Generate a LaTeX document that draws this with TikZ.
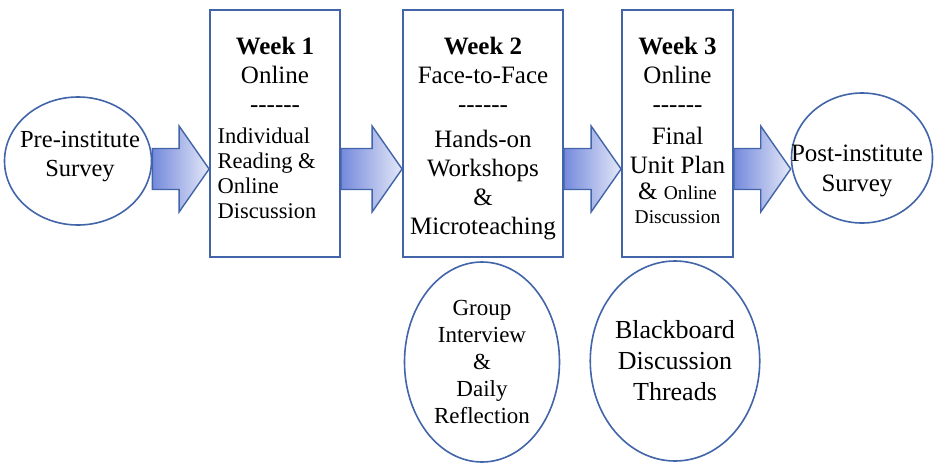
\documentclass[tikz,border=0pt]{standalone}
\usepackage{fontspec}
\setmainfont{Liberation Serif}
\usetikzlibrary{shapes.geometric,positioning,calc}
\definecolor{lineblue}{HTML}{4264A8}
\definecolor{arrowdark}{HTML}{7489DC}
\definecolor{arrowlight}{HTML}{E4E8F7}

\begin{document}
\begin{tikzpicture}[x=1pt,y=-1pt,
    every node/.style={font=\rmfamily},
    weekbox/.style={draw=lineblue, line width=1.8pt, minimum width=#1, minimum height=247pt, inner sep=0pt},
    boxtext/.style={align=center, inner sep=0pt, font=\rmfamily\fontsize{25}{29}\selectfont},
    oval/.style={ellipse, draw=lineblue, line width=1.6pt, inner sep=0pt, align=center},
    blockarrow/.style={draw=lineblue, line width=1.4pt, line join=miter,
        left color=arrowdark, right color=arrowlight,
        to path={($(\tikztostart)+(0,-20.5)$) -- ($(\tikztotarget)+(-30,-20.5)$)
            -- ($(\tikztotarget)+(-30,-43)$) -- (\tikztotarget)
            -- ($(\tikztotarget)+(-30,43)$) -- ($(\tikztotarget)+(-30,20.5)$)
            -- ($(\tikztostart)+(0,20.5)$) -- cycle}}]
            \useasboundingbox (0,0) rectangle (934,463);

            \node[oval, minimum width=147pt, minimum height=128pt] (pre) at (78,161) {};
            \node[align=center, inner sep=0pt, font=\rmfamily\fontsize{24.5}{29}\selectfont] (pretext) at (80,157) {Pre-institute\\Survey};

            \node[weekbox=130pt] (w1) at (275,133.5) {};
            \node[boxtext, below=28pt of w1.north] (w1text) {\textbf{Week 1}\\Online\\-{}-{}-{}-{}-{}-\\[2pt]\hspace*{-16pt}{\fontsize{22.5}{25}\selectfont\begin{tabular}[t]{@{}l@{}}Individual\\Reading \&\\Online\\Discussion\end{tabular}}};

            \node[weekbox=160pt] (w2) at (483,133.5) {};
            \node[boxtext, below=28pt of w2.north] (w2text) {\textbf{Week 2}\\Face-to-Face\\-{}-{}-{}-{}-{}-\\[6pt]Hands-on\\Workshops\\\&\\Microteaching};

            \node[weekbox=111pt] (w3) at (677.5,133.5) {};
            \node[boxtext, below=28pt of w3.north] (w3text) {\textbf{Week 3}\\Online\\-{}-{}-{}-{}-{}-\\[3pt]Final\\Unit Plan\\[-3pt]\& {\fontsize{19.5}{24}\selectfont Online}\\[-5pt]{\fontsize{19.5}{24}\selectfont Discussion}};

            \node[oval, minimum width=141pt, minimum height=130pt] (post) at (862,158) {};
            \node[align=center, inner sep=0pt, font=\rmfamily\fontsize{25}{30}\selectfont] (posttext) at (857,171) {Post-institute\\Survey};

            \node[oval, minimum width=155pt, minimum height=200pt, font=\rmfamily\fontsize{23}{27}\selectfont] (group) at (482,362) {Group\\Interview\\\&\\Daily\\Reflection};
            \node[oval, minimum width=146pt, minimum height=200pt, font=\rmfamily\fontsize{26}{31}\selectfont] (board) at (675,361) {Blackboard\\Discussion\\Threads};

            \coordinate (row) at (0,169);
            \draw[blockarrow] (pre.east |- row) to (w1.west |- row);
            \draw[blockarrow] (w1.east |- row) to (w2.west |- row);
            \draw[blockarrow] (w2.east |- row) to (w3.west |- row);
            \draw[blockarrow] (w3.east |- row) to (post.west |- row);
        \end{tikzpicture}
\end{document}
